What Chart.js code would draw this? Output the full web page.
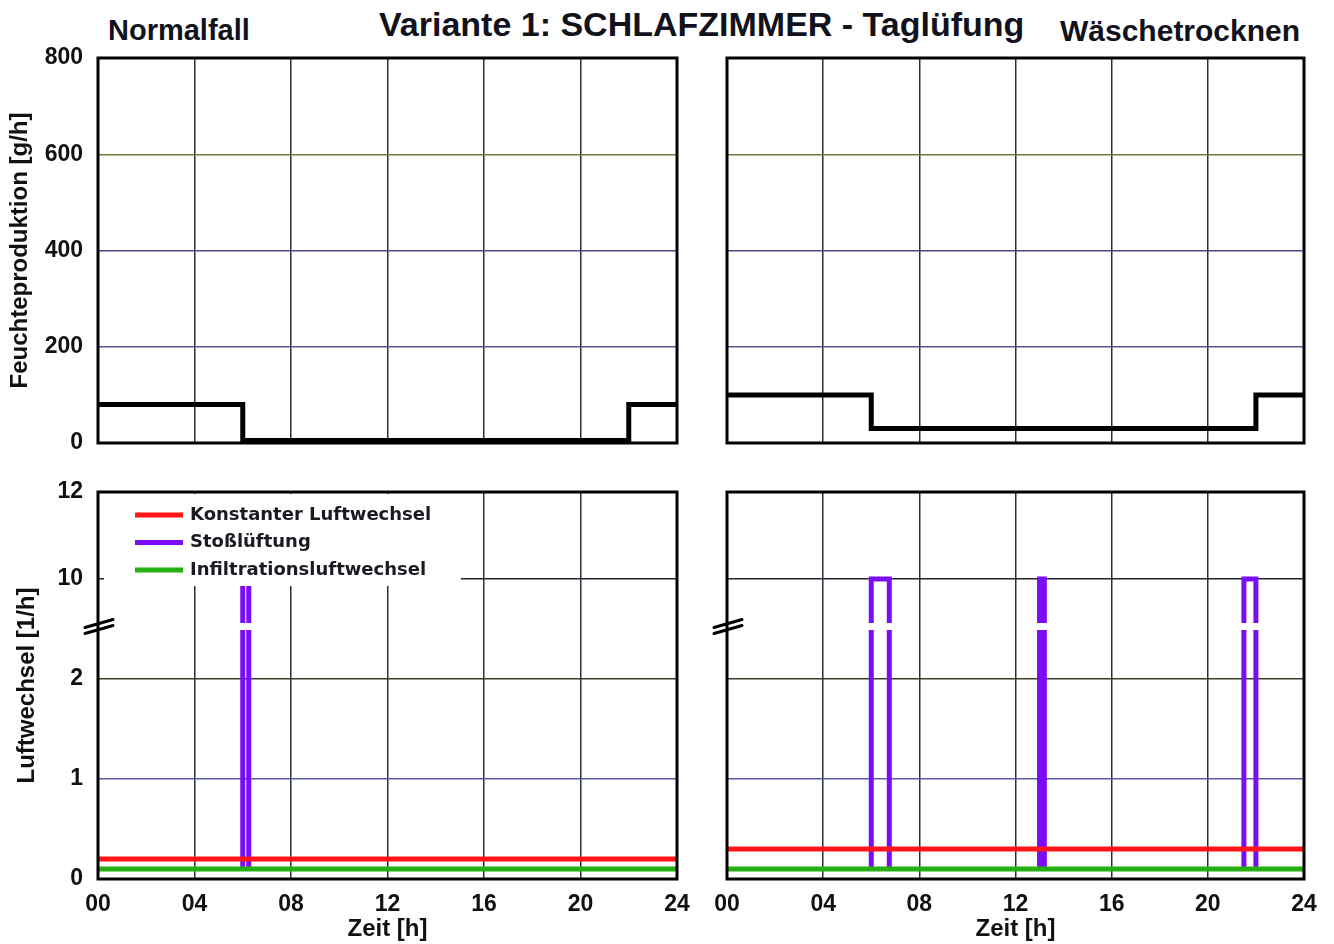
<!DOCTYPE html>
<html>
<head>
<meta charset="utf-8">
<title>Variante 1: SCHLAFZIMMER - Taglüfung</title>
<script src="https://cdn.jsdelivr.net/npm/chart.js@4.4.1/dist/chart.umd.min.js"></script>
<style>
  html, body { margin: 0; padding: 0; background: #fff; }
  #stage { position: relative; width: 1334px; height: 944px; overflow: hidden;
           font-family: "Liberation Sans", Arial, sans-serif; }
  #stage canvas { position: absolute; left: 0; top: 0; }
  .hdr { position: absolute; font-weight: bold; color: #12121c; white-space: nowrap; line-height: 1; }
</style>
</head>
<body>
<div id="stage">
  <div class="hdr" style="left:108px; top:16px; font-size:29px;">Normalfall</div>
  <div class="hdr" style="left:379px; top:7px; font-size:34px;">Variante 1: SCHLAFZIMMER - Taglüfung</div>
  <div class="hdr" style="left:1060px; top:16px; font-size:30px;">Wäschetrocknen</div>
  <canvas id="moistNormal" width="1334" height="944"></canvas>
  <canvas id="moistDrying" width="1334" height="944"></canvas>
  <canvas id="airNormal" width="1334" height="944"></canvas>
  <canvas id="airDrying" width="1334" height="944"></canvas>
</div>
<script>
// ---- data -------------------------------------------------------------
const HOUR_TICKS = [0, 4, 8, 12, 16, 20, 24];
const MOISTURE_TICKS = [0, 200, 400, 600, 800];
const AIR_TICKS = [0, 1, 2, 10, 12];

// Feuchteproduktion [g/h]: value holds from each time until the next one
const normalTimes = [0, 6, 22, 24];
const normalMoisture = [80, 5, 80, 80];
const dryingTimes = [0, 6, 22, 24];
const dryingMoisture = [100, 30, 100, 100];

// Luftwechsel [1/h]
const normalConstantRate = [0.2];
const dryingConstantRate = [0.3];
const infiltrationRate = [0.1];
const pulseRate = [10];
const normalPulses = [[6, 6.25]];
const dryingPulses = [[6, 6.75], [13, 13.2], [21.5, 22]];

// value where the Luftwechsel axis is interrupted (between 2 and 10)
const AIR_BREAK = 6.2;

const LEGEND_LABELS = ['Konstanter Luftwechsel', 'Stoßlüftung', 'Infiltrationsluftwechsel'];
const COLORS = { constant: '#ff1418', pulse: '#7b0cf7', infiltration: '#25b012', moisture: '#000000' };

// ---- broken axis: 0..2 linear, 2..10 compressed, 10..12 expanded ----
function airUnits(v) {
  if (v <= 2) return v;
  if (v <= 10) return 2 + (v - 2) / 8;
  return 3 + (v - 10) * 0.435;
}
function airValue(u) {
  if (u <= 2) return u;
  if (u <= 3) return 2 + (u - 2) * 8;
  return 10 + (u - 3) / 0.435;
}
class BrokenLinearScale extends Chart.LinearScale {
  buildTicks() { return AIR_TICKS.map(v => ({ value: v })); }
  getPixelForValue(value) {
    if (value === null || value === undefined || isNaN(value)) return NaN;
    return this.getPixelForDecimal(airUnits(value) / airUnits(this.max));
  }
  getValueForPixel(pixel) {
    return airValue(this.getDecimalForPixel(pixel) * airUnits(this.max));
  }
}
BrokenLinearScale.id = 'brokenLinear';
BrokenLinearScale.defaults = Chart.LinearScale.defaults;
Chart.register(BrokenLinearScale);

Chart.defaults.font.family = '"Liberation Sans", Arial, sans-serif';
Chart.defaults.color = '#111';
Chart.defaults.animation = false;
Chart.defaults.events = [];
Chart.defaults.plugins.legend.display = false;
Chart.defaults.plugins.tooltip.enabled = false;

// ---- series builders ----------------------------------------------------
function stepSeries(times, values) {
  return times.map((t, i) => ({ x: t, y: values[i] }));
}
function flatSeries(rate) {
  return [{ x: 0, y: rate }, { x: 24, y: rate }];
}
function pulseSeries(pulses, base, peak) {
  const pts = [];
  pulses.forEach(([s, e]) => {
    pts.push({ x: s, y: base }, { x: s, y: peak }, { x: e, y: peak }, { x: e, y: base }, { x: e, y: null });
  });
  return pts;
}

// ---- plugins ------------------------------------------------------------
const framePlugin = {
  id: 'frame',
  afterDraw(chart) {
    const { ctx, chartArea: a } = chart;
    ctx.save();
    ctx.strokeStyle = '#000';
    ctx.lineWidth = 3;
    ctx.strokeRect(a.left, a.top, a.right - a.left, a.bottom - a.top);
    ctx.restore();
  }
};

const breakPlugin = {
  id: 'axisBreak',
  afterDatasetsDraw(chart) {
    const { ctx } = chart;
    const yb = chart.scales.y.getPixelForValue(AIR_BREAK);
    ctx.save();
    ctx.fillStyle = '#fff';
    chart.data.datasets.forEach((ds, i) => {
      if (!ds.gapAtBreak) return;
      const pts = chart.getDatasetMeta(i).data;
      for (let k = 1; k < pts.length; k++) {
        const p = pts[k - 1], q = pts[k];
        if (p.skip || q.skip) continue;
        if (Math.abs(p.x - q.x) < 0.5 && Math.min(p.y, q.y) < yb && Math.max(p.y, q.y) > yb) {
          ctx.fillRect(p.x - 4, yb - 3.5, 8, 7);
        }
      }
    });
    ctx.restore();
  },
  afterDraw(chart) {
    const { ctx, chartArea: a } = chart;
    const yb = chart.scales.y.getPixelForValue(AIR_BREAK);
    const x = a.left;
    ctx.save();
    ctx.fillStyle = '#fff';
    ctx.beginPath();
    ctx.moveTo(x - 13, yb + 1);
    ctx.lineTo(x + 15, yb - 7);
    ctx.lineTo(x + 15, yb - 1);
    ctx.lineTo(x - 13, yb + 7);
    ctx.closePath();
    ctx.fill();
    ctx.strokeStyle = '#000';
    ctx.lineWidth = 3;
    ctx.lineCap = 'round';
    [-1, 5].forEach(off => {
      ctx.beginPath();
      ctx.moveTo(x - 13, yb + 4 + off - 2);
      ctx.lineTo(x + 15, yb - 4 + off - 2);
      ctx.stroke();
    });
    ctx.restore();
  }
};

const insetLegendPlugin = {
  id: 'insetLegend',
  afterDatasetsDraw(chart) {
    const { ctx, chartArea: a } = chart;
    ctx.save();
    ctx.fillStyle = '#fff';
    ctx.fillRect(a.left + 6, a.top + 2, 357, 92);
    const entries = LEGEND_LABELS.map(label => chart.data.datasets.find(d => d.label === label));
    ctx.font = 'bold 18px "DejaVu Sans", sans-serif';
    ctx.textBaseline = 'middle';
    ctx.textAlign = 'left';
    entries.forEach((ds, i) => {
      const y = a.top + 23 + i * 27.5;
      ctx.strokeStyle = ds.borderColor;
      ctx.lineWidth = 5;
      ctx.beginPath();
      ctx.moveTo(a.left + 37, y);
      ctx.lineTo(a.left + 85, y);
      ctx.stroke();
      ctx.fillStyle = '#1a1a22';
      ctx.fillText(ds.label, a.left + 92, y);
    });
    ctx.restore();
  }
};

// ---- panel factory ------------------------------------------------------
const W = 1334, H = 944;
const TICK_FONT = { size: 23, weight: 'bold' };
const TITLE_FONT = { size: 24, weight: 'bold' };

function gridColorFor(map) {
  return ctx => (ctx.tick && map[ctx.tick.value] !== undefined) ? map[ctx.tick.value] : '#333';
}

function panel(id, o) {
  const a = o.area;
  const yW = o.yLabels ? a.left : 0;
  const xH = o.xLabels ? H - a.bottom : 0;
  const yScale = {
    type: o.yType,
    min: o.yMin, max: o.yMax,
    afterFit: s => { s.width = yW; },
    border: { display: false },
    grid: { color: gridColorFor(o.yGrid), lineWidth: 1.5, drawTicks: false },
    ticks: { display: o.yLabels, font: TICK_FONT, padding: 15, color: '#111',
             callback: v => String(v) },
    title: { display: o.yLabels, text: o.yTitle, font: TITLE_FONT, color: '#111',
             padding: { top: o.yTitlePad || 6, bottom: 0 } }
  };
  if (o.yTicks) yScale.afterBuildTicks = s => { s.ticks = o.yTicks.map(v => ({ value: v })); };
  return new Chart(document.getElementById(id), {
    type: 'line',
    data: { datasets: o.datasets },
    options: {
      responsive: false,
      devicePixelRatio: 1,
      layout: { padding: { left: a.left - yW, right: W - a.right, top: a.top, bottom: H - a.bottom - xH } },
      elements: { point: { radius: 0 }, line: { tension: 0, borderJoinStyle: 'miter' } },
      scales: {
        x: {
          type: 'linear', min: 0, max: 24,
          afterBuildTicks: s => { s.ticks = HOUR_TICKS.map(v => ({ value: v })); },
          afterFit: s => { s.height = xH; },
          border: { display: false },
          grid: { color: '#2c2e3e', lineWidth: 1.5, drawTicks: false },
          ticks: { display: o.xLabels, font: TICK_FONT, padding: 12, color: '#111',
                   maxRotation: 0, autoSkip: false,
                   callback: v => String(v).padStart(2, '0') },
          title: { display: o.xLabels, text: 'Zeit [h]', font: TITLE_FONT, color: '#111',
                   padding: { top: 0, bottom: 0 } }
        },
        y: yScale
      }
    },
    plugins: o.plugins || [framePlugin]
  });
}

const LEFT = { left: 98, right: 677 };
const RIGHT = { left: 727, right: 1304 };
const TOP = { top: 58, bottom: 443 };
const BOTTOM = { top: 492, bottom: 879 };

const moistureGrid = { 0: '#000', 200: '#55558f', 400: '#48488a', 600: '#77773c', 800: '#000' };
const airGrid = { 0: '#000', 1: '#5a5aa6', 2: '#3a3a28', 10: '#22222a', 12: '#000' };

function moistureDataset(times, values) {
  return [{ label: 'Feuchteproduktion', data: stepSeries(times, values), stepped: 'before',
            borderColor: COLORS.moisture, borderWidth: 5, fill: false }];
}
function airDatasets(constantRate, pulses) {
  return [
    { label: LEGEND_LABELS[1], data: pulseSeries(pulses, infiltrationRate[0], pulseRate[0]),
      borderColor: COLORS.pulse, borderWidth: 5, fill: false, order: 3, gapAtBreak: true, spanGaps: false },
    { label: LEGEND_LABELS[0], data: flatSeries(constantRate[0]),
      borderColor: COLORS.constant, borderWidth: 5, fill: false, order: 1 },
    { label: LEGEND_LABELS[2], data: flatSeries(infiltrationRate[0]),
      borderColor: COLORS.infiltration, borderWidth: 5, fill: false, order: 2 }
  ];
}

panel('moistNormal', {
  area: { ...LEFT, ...TOP }, yLabels: true, xLabels: false,
  yType: 'linear', yMin: 0, yMax: 800, yTicks: MOISTURE_TICKS, yGrid: moistureGrid,
  yTitle: 'Feuchteproduktion [g/h]', yTitlePad: 6,
  datasets: moistureDataset(normalTimes, normalMoisture)
});
panel('moistDrying', {
  area: { ...RIGHT, ...TOP }, yLabels: false, xLabels: false,
  yType: 'linear', yMin: 0, yMax: 800, yTicks: MOISTURE_TICKS, yGrid: moistureGrid,
  datasets: moistureDataset(dryingTimes, dryingMoisture)
});
panel('airNormal', {
  area: { ...LEFT, ...BOTTOM }, yLabels: true, xLabels: true,
  yType: 'brokenLinear', yMin: 0, yMax: 12, yGrid: airGrid,
  yTitle: 'Luftwechsel [1/h]', yTitlePad: 13,
  datasets: airDatasets(normalConstantRate, normalPulses),
  plugins: [breakPlugin, insetLegendPlugin, framePlugin]
});
panel('airDrying', {
  area: { ...RIGHT, ...BOTTOM }, yLabels: false, xLabels: true,
  yType: 'brokenLinear', yMin: 0, yMax: 12, yGrid: airGrid,
  datasets: airDatasets(dryingConstantRate, dryingPulses),
  plugins: [breakPlugin, framePlugin]
});
</script>
</body>
</html>
